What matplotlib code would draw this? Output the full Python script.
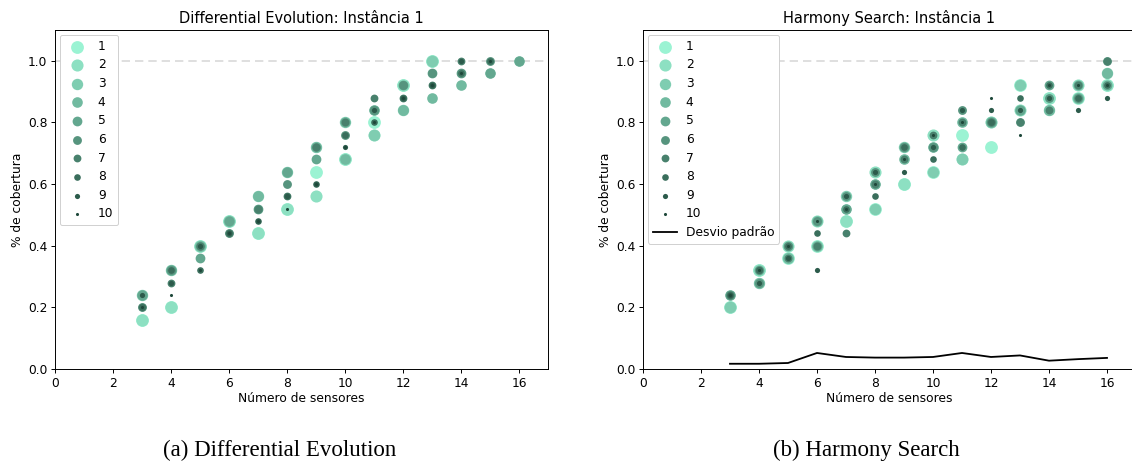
import numpy as np
import matplotlib
matplotlib.use("Agg")
import matplotlib.pyplot as plt

nan = np.nan
n_sensors = [3, 4, 5, 6, 7, 8, 9, 10, 11, 12, 13, 14, 15, 16]
run_labels = ["1", "2", "3", "4", "5", "6", "7", "8", "9", "10"]

# Differential Evolution – coverage per run
de_r1 = [0.16, 0.20, 0.40, 0.48, 0.44, 0.52, 0.64, 0.68, 0.80, 0.92, 1.00, nan, nan, nan]
de_r2 = [0.16, 0.20, 0.40, 0.48, 0.44, 0.52, 0.56, 0.68, 0.76, 0.92, 1.00, nan, nan, nan]
de_r3 = [0.24, 0.32, 0.40, 0.48, 0.56, 0.64, 0.72, 0.80, 0.76, 0.84, 1.00, nan, nan, nan]
de_r4 = [0.24, 0.32, 0.40, 0.48, 0.56, 0.64, 0.72, 0.68, 0.84, 0.84, 0.88, 0.92, 0.96, 1.00]
de_r5 = [0.24, 0.32, 0.36, 0.48, 0.52, 0.64, 0.68, 0.80, 0.84, 0.92, 0.96, 0.96, 0.96, 1.00]
de_r6 = [0.20, 0.32, 0.40, 0.44, 0.52, 0.60, 0.72, 0.76, 0.84, 0.92, 0.96, 0.96, 1.00, nan]
de_r7 = [0.20, 0.28, 0.40, 0.44, 0.52, 0.56, 0.72, 0.80, 0.88, 0.88, 0.92, 1.00, nan, nan]
de_r8 = [0.20, 0.32, 0.32, 0.44, 0.48, 0.56, 0.60, 0.76, 0.80, 0.88, 0.92, 0.96, 1.00, nan]
de_r9 = [0.24, 0.28, 0.40, 0.44, 0.48, 0.56, 0.60, 0.72, 0.84, 0.88, 0.92, 1.00, nan, nan]
de_r10 = [0.20, 0.24, 0.32, 0.44, 0.48, 0.52, 0.60, 0.72, 0.80, 0.88, 0.92, 0.96, 1.00, nan]

# Harmony Search – coverage per run
hs_r1 = [0.20, 0.32, 0.36, 0.40, 0.48, 0.52, 0.60, 0.64, 0.76, 0.72, 0.92, 0.88, 0.88, 0.92]
hs_r2 = [0.20, 0.32, 0.40, 0.48, 0.48, 0.64, 0.60, 0.76, 0.68, 0.80, 0.84, 0.88, 0.92, 0.92]
hs_r3 = [0.20, 0.28, 0.36, 0.40, 0.56, 0.52, 0.72, 0.64, 0.68, 0.80, 0.92, 0.84, 0.88, 0.96]
hs_r4 = [0.24, 0.28, 0.36, 0.48, 0.52, 0.60, 0.68, 0.72, 0.80, 0.80, 0.84, 0.84, 0.88, 0.96]
hs_r5 = [0.24, 0.32, 0.40, 0.40, 0.52, 0.60, 0.72, 0.72, 0.72, 0.80, 0.84, 0.92, 0.92, 0.92]
hs_r6 = [0.24, 0.28, 0.40, 0.48, 0.56, 0.64, 0.72, 0.72, 0.84, 0.80, 0.80, 0.88, 0.88, 1.00]
hs_r7 = [0.24, 0.32, 0.36, 0.40, 0.44, 0.60, 0.68, 0.76, 0.80, 0.80, 0.80, 0.84, 0.92, 1.00]
hs_r8 = [0.24, 0.32, 0.40, 0.44, 0.52, 0.56, 0.72, 0.68, 0.72, 0.80, 0.88, 0.92, 0.88, 0.92]
hs_r9 = [0.24, 0.28, 0.36, 0.32, 0.56, 0.64, 0.64, 0.72, 0.84, 0.84, 0.84, 0.88, 0.84, 0.88]
hs_r10 = [0.24, 0.32, 0.40, 0.48, 0.52, 0.60, 0.68, 0.76, 0.80, 0.88, 0.76, 0.92, 0.92, 0.92]

hs_std = [0.017, 0.017, 0.0195, 0.052, 0.039, 0.037, 0.037, 0.039, 0.052, 0.039, 0.044, 0.027, 0.032, 0.036]

de_runs = [de_r1, de_r2, de_r3, de_r4, de_r5, de_r6, de_r7, de_r8, de_r9, de_r10]
hs_runs = [hs_r1, hs_r2, hs_r3, hs_r4, hs_r5, hs_r6, hs_r7, hs_r8, hs_r9, hs_r10]

light = np.array([155, 243, 211]) / 255.0
dark = np.array([30, 72, 58]) / 255.0
colors = [tuple(light + (dark - light) * i / 9.0) for i in range(10)]
sizes = [85 - (85 - 5) * i / 9.0 for i in range(10)]

W, H = 1132, 463
fig = plt.figure(figsize=(W / 100, H / 100), dpi=100)

fs_tick = 8.8
fs_title = 10.5

def make_axes(left_px, runs, title, with_std=False):
    ax = fig.add_axes([left_px / W, (H - 369) / H, 493 / W, 339 / H])
    ax.axhline(1.0, color="#d9d9d9", linestyle=(0, (5, 3)), linewidth=1.2, zorder=0)
    for i, run in enumerate(runs):
        ax.scatter(n_sensors, run, s=sizes[i], color=colors[i], linewidths=0,
                   label=run_labels[i], zorder=2 + i)
    if with_std:
        ax.plot(n_sensors, hs_std, color="black", linewidth=1.3, label="Desvio padrão", zorder=20)
    ax.set_xlim(0, 17)
    ax.set_ylim(0, 1.1)
    ax.set_xticks(range(0, 17, 2))
    ax.set_yticks([0.0, 0.2, 0.4, 0.6, 0.8, 1.0])
    ax.tick_params(labelsize=fs_tick, length=3, width=0.7, pad=2.5)
    for sp in ax.spines.values():
        sp.set_linewidth(0.7)
    ax.set_xlabel("Número de sensores", fontsize=fs_tick, labelpad=2)
    ax.set_ylabel("% de cobertura", fontsize=fs_tick, labelpad=3)
    ax.set_title(title, fontsize=fs_title, pad=5)
    leg = ax.legend(loc="upper left", fontsize=fs_tick, scatterpoints=1,
                    labelspacing=0.46, handletextpad=0.7, borderpad=0.4,
                    framealpha=1.0, edgecolor="#d0d0d0", fancybox=True,
                    handlelength=2.0, borderaxespad=0.4)
    leg.get_frame().set_linewidth(0.7)
    return ax

make_axes(55, de_runs, "Differential Evolution: Instância 1")
make_axes(643, hs_runs, "Harmony Search: Instância 1", with_std=True)

fig.text(280 / W, 1 - 450 / H, "(a) Differential Evolution", fontsize=16.5,
         family="Liberation Serif", ha="center", va="center")
fig.text(866 / W, 1 - 450 / H, "(b) Harmony Search", fontsize=16.5,
         family="Liberation Serif", ha="center", va="center")

fig.savefig("out.png", dpi=100)
